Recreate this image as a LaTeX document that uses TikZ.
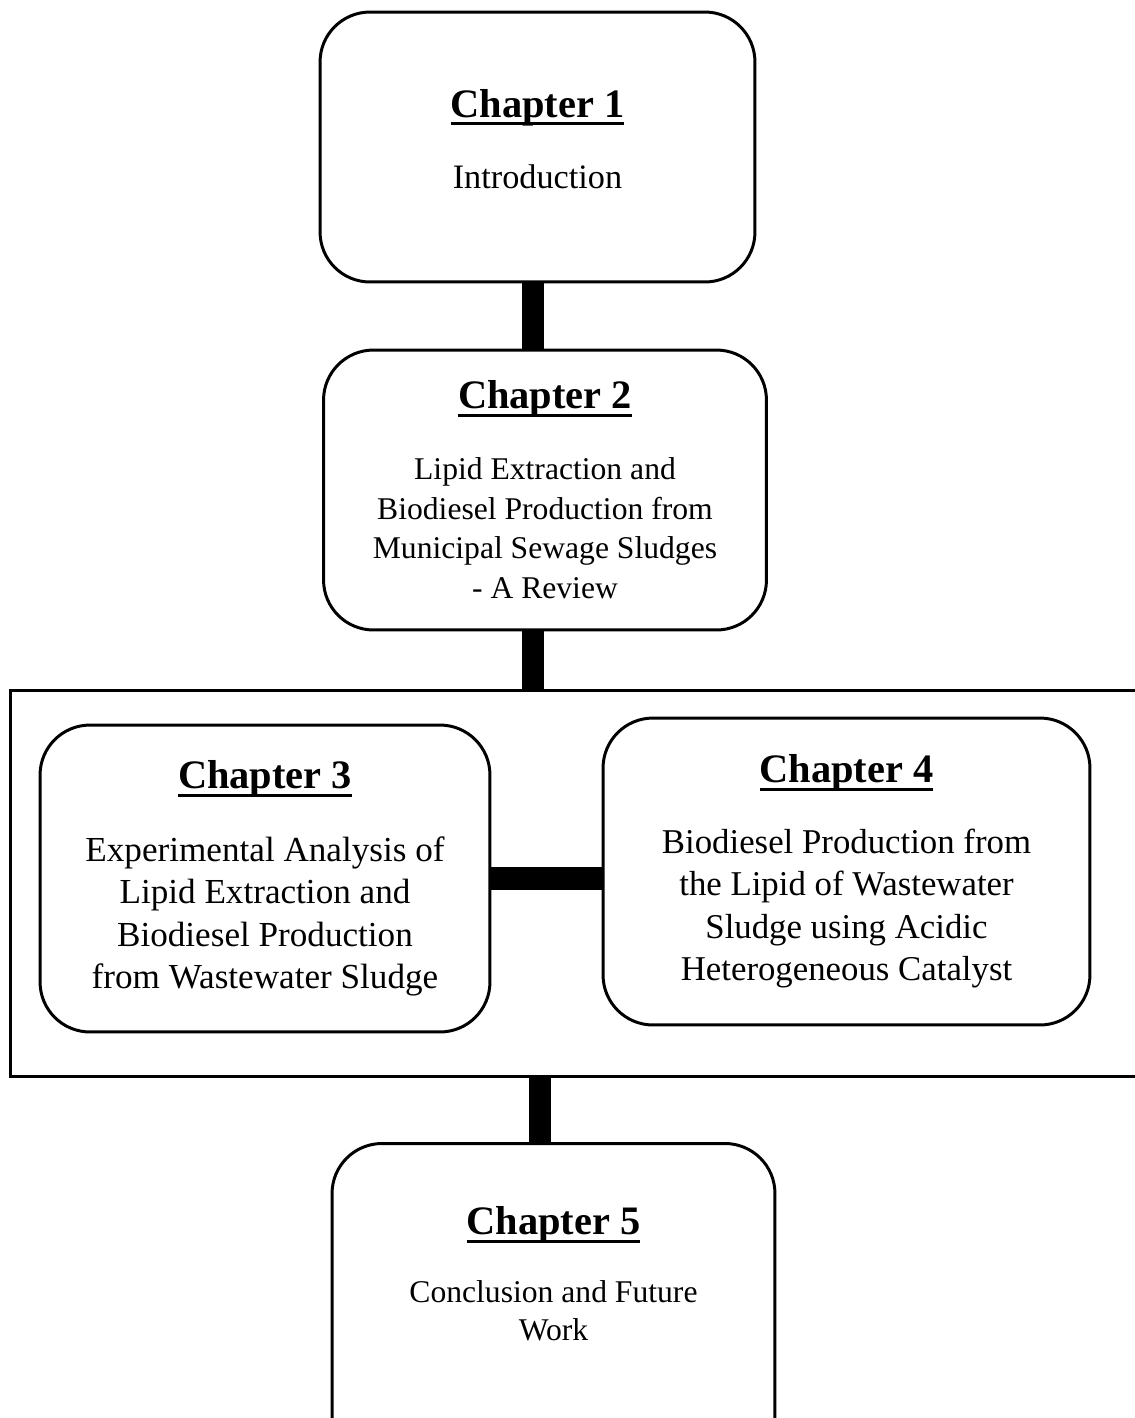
\documentclass[tikz,border=0pt]{standalone}
\usepackage{fontspec}
\setmainfont{Liberation Serif}
\usepackage{tikz}
\usetikzlibrary{shapes.geometric, arrows}
\tikzstyle{chapbox} = [draw, line width=1.7pt, rounded corners=1cm, align=center, inner sep=0pt]
\tikzstyle{groupbox} = [draw, line width=1.7pt, inner sep=0pt]
\tikzstyle{bar} = [line width=13pt]
\newcommand{\chaphead}[1]{\leavevmode\setbox0\hbox{\fontsize{23}{27}\selectfont\bfseries #1}\rlap{\rule[-4.5pt]{\wd0}{1.7pt}}\box0}

\begin{document}
\begin{tikzpicture}[x=0.02cm, y=-0.02cm]
\useasboundingbox (0,0) rectangle (1135,1418);

\node[groupbox, minimum width=23cm, minimum height=7.74cm] (group) at (585,883.5) {};

\node[chapbox, minimum width=8.7cm, minimum height=5.4cm, font=\fontsize{19.5}{23.5}\selectfont] (ch1) at (537.5,147)
  {\chaphead{Chapter 1}\\[17pt]Introduction\\[-14pt]\mbox{}};
\node[chapbox, minimum width=8.86cm, minimum height=5.6cm, font=\fontsize{18}{22.7}\selectfont] (ch2) at (545,490)
  {\chaphead{Chapter 2}\\[17.3pt]Lipid Extraction and\\Biodiesel Production from\\Municipal Sewage Sludges\\- A Review};
\node[chapbox, minimum width=9cm, minimum height=6.14cm, font=\fontsize{20}{24.2}\selectfont] (ch3) at (265,878.5)
  {\chaphead{Chapter 3}\\[17pt]Experimental Analysis of\\Lipid Extraction and\\Biodiesel Production\\from Wastewater Sludge};
\node[chapbox, minimum width=9.74cm, minimum height=6.14cm, font=\fontsize{19.8}{24.2}\selectfont] (ch4) at (846.5,871.5)
  {\chaphead{Chapter 4}\\[16pt]Biodiesel Production from\\the Lipid of Wastewater\\Sludge using Acidic\\Heterogeneous Catalyst};
\node[chapbox, anchor=north, minimum width=8.86cm, minimum height=7cm, font=\fontsize{18}{21.5}\selectfont] (ch5) at (553.5,1142)
  {\chaphead{Chapter 5}\\[17pt]Conclusion and Future\\Work\\[29.5pt]\mbox{}};

% thick links
\coordinate (spine) at (533,0);
\coordinate (lowspine) at (540,0);
\draw[bar] (ch1.south -| spine) -- (ch2.north -| spine);
\draw[bar] (ch2.south -| spine) -- (group.north -| spine);
\draw[bar] (ch3.east) -- (ch4.west |- ch3.east);
\draw[bar] (group.south -| lowspine) -- (ch5.north -| lowspine);
\end{tikzpicture}
\end{document}
